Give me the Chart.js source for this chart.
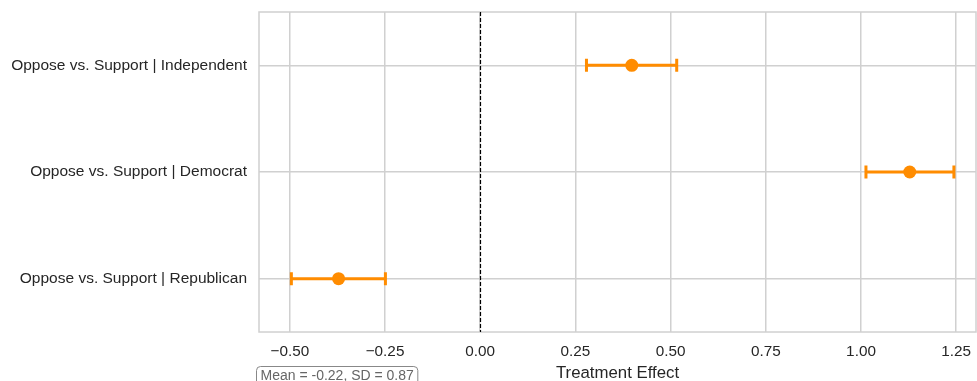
<!DOCTYPE html>
<html>
<head>
<meta charset="utf-8">
<script src="https://cdn.jsdelivr.net/npm/chart.js@4.4.1/dist/chart.umd.min.js"></script>
<style>
  html, body { margin: 0; padding: 0; background: #fff; }
  #wrap { width: 977px; height: 381px; }
</style>
</head>
<body>
<div id="wrap"><canvas id="forest-chart"></canvas></div>
<script>
// data
const categories = ['Oppose vs. Support | Independent', 'Oppose vs. Support | Democrat', 'Oppose vs. Support | Republican'];
const estimates = [0.398, 1.128, -0.372];
const ciLow = [0.279, 1.013, -0.496];
const ciHigh = [0.516, 1.244, -0.249];
const xTicks = [-0.5, -0.25, 0, 0.25, 0.5, 0.75, 1.0, 1.25];
const noteText = 'Mean = -0.22, SD = 0.87';

const orange = '#ff8c00';
const gridColor = '#d0d0d0';
const textColor = '#262626';
const fontFamily = '"Liberation Sans", Arial, sans-serif';

// error bars + zero line + frame + note
const forestPlugin = {
  id: 'forest',
  beforeDatasetsDraw(chart) {
    const {ctx, chartArea: a, scales: {x, y}} = chart;
    ctx.save();
    // frame
    ctx.strokeStyle = gridColor;
    ctx.lineWidth = 1.5;
    ctx.strokeRect(a.left, a.top, a.right - a.left, a.bottom - a.top);
    // zero line
    const zx = Math.round(x.getPixelForValue(0)) + 0.5;
    ctx.strokeStyle = '#000';
    ctx.lineWidth = 1.2;
    ctx.setLineDash([4, 2]);
    ctx.beginPath();
    ctx.moveTo(zx, a.top);
    ctx.lineTo(zx, a.bottom);
    ctx.stroke();
    ctx.setLineDash([]);
    // error bars
    ctx.strokeStyle = orange;
    ctx.lineWidth = 3;
    categories.forEach((c, i) => {
      const py = y.getPixelForValue(i);
      const x1 = x.getPixelForValue(ciLow[i]);
      const x2 = x.getPixelForValue(ciHigh[i]);
      ctx.beginPath();
      ctx.moveTo(x1, py); ctx.lineTo(x2, py);
      ctx.moveTo(x1, py - 6.5); ctx.lineTo(x1, py + 6.5);
      ctx.moveTo(x2, py - 6.5); ctx.lineTo(x2, py + 6.5);
      ctx.stroke();
    });
    ctx.restore();
  },
  afterDraw(chart) {
    const {ctx} = chart;
    ctx.save();
    ctx.font = '14px ' + fontFamily;
    const w = ctx.measureText(noteText).width;
    const bx = 256.5, by = 366.5, bw = w + 8, bh = 20, r = 4;
    ctx.fillStyle = '#fff';
    ctx.strokeStyle = '#888';
    ctx.lineWidth = 1;
    ctx.beginPath();
    ctx.roundRect(bx, by, bw, bh, r);
    ctx.fill();
    ctx.stroke();
    ctx.fillStyle = '#666';
    ctx.textBaseline = 'alphabetic';
    ctx.fillText(noteText, bx + 4, by + 13.5);
    ctx.restore();
  }
};

const ctxForest = document.getElementById('forest-chart');

new Chart(ctxForest, {
  type: 'scatter',
  data: {
    labels: categories,
    datasets: [{
      label: 'Estimate',
      data: estimates.map((v, i) => ({x: v, y: i})),
      backgroundColor: orange,
      borderColor: orange,
      pointRadius: 6.5,
      pointHoverRadius: 6.5,
      borderWidth: 0
    }]
  },
  plugins: [forestPlugin],
  options: {
    responsive: true,
    maintainAspectRatio: false,
    animation: false,
    layout: {
      autoPadding: false,
      padding: {top: 12, right: 1, left: 0, bottom: 0}
    },
    plugins: {
      legend: {display: false},
      tooltip: {enabled: false}
    },
    scales: {
      x: {
        type: 'linear',
        min: -0.581,
        max: 1.302,
        afterBuildTicks: (scale) => {
          scale.ticks = xTicks.map(v => ({value: v}));
        },
        afterFit: (scale) => {
          scale.height = 49;
          scale.paddingLeft = 0;
          scale.paddingRight = 0;
        },
        border: {display: false},
        grid: {
          color: gridColor,
          lineWidth: 1.5,
          drawTicks: false
        },
        ticks: {
          color: textColor,
          padding: 11,
          maxRotation: 0,
          autoSkip: false,
          font: {family: fontFamily, size: 15.3},
          callback: (value) => value.toFixed(2).replace('-', '\u2212')
        },
        title: {
          display: true,
          text: 'Treatment Effect',
          color: textColor,
          padding: {top: 0, bottom: -2},
          font: {family: fontFamily, size: 16.8}
        }
      },
      y: {
        type: 'linear',
        min: -0.5,
        max: 2.5,
        reverse: true,
        afterBuildTicks: (scale) => {
          scale.ticks = categories.map((c, i) => ({value: i}));
        },
        afterFit: (scale) => {
          scale.width = 259;
          scale.paddingTop = 0;
          scale.paddingBottom = 0;
        },
        border: {display: false},
        grid: {
          color: gridColor,
          lineWidth: 1.5,
          drawTicks: false
        },
        ticks: {
          color: textColor,
          padding: 12,
          autoSkip: false,
          font: {family: fontFamily, size: 15.5},
          callback: (value) => categories[value]
        }
      }
    }
  }
});
</script>
</body>
</html>
